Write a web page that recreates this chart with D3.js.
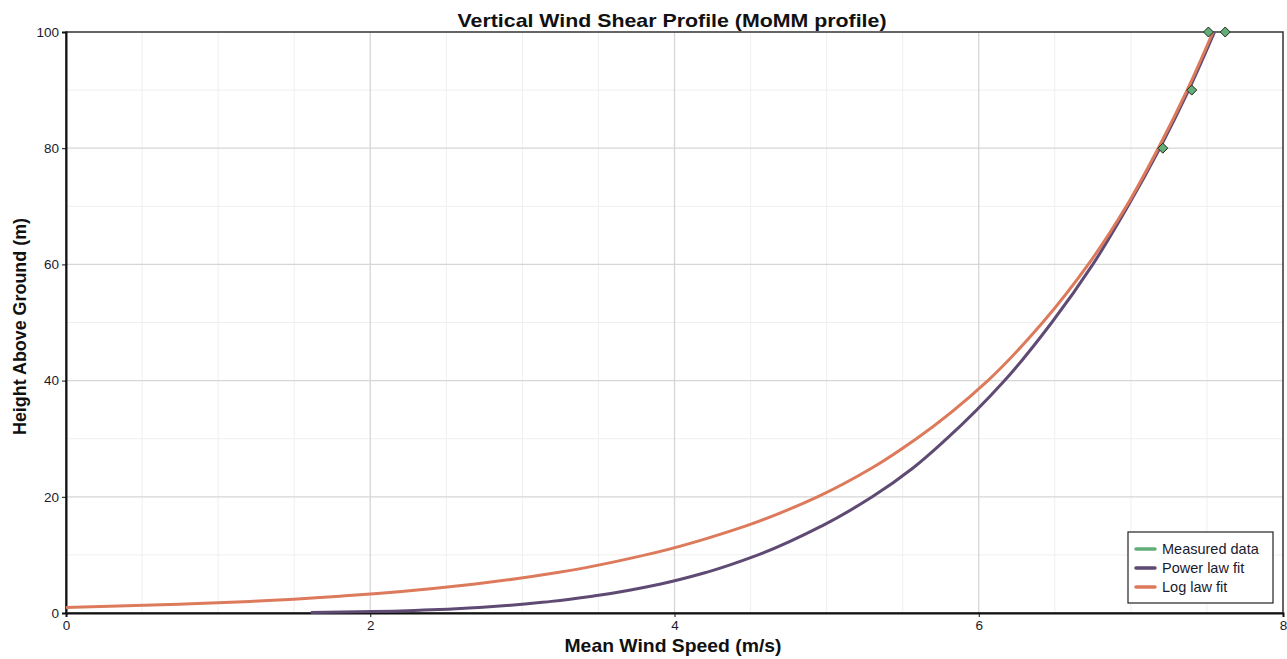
<!DOCTYPE html>
<html>
<head>
<meta charset="utf-8">
<script src="https://cdn.jsdelivr.net/npm/d3@7"></script>
<style>
  body { margin: 0; background: #fff; }
  svg { display: block; font-family: "Liberation Sans", Arial, sans-serif; }
</style>
</head>
<body>
<div id="chart"></div>
<script>
// heights (m) and wind speeds (m/s)
const powerHeights = [0.09, 0.25, 0.5, 1, 2, 3, 5, 7, 10, 15, 20, 25, 30, 40, 50, 60, 70, 80, 90, 100];
const powerSpeeds  = [1.61, 2.02, 2.35, 2.74, 3.19, 3.49, 3.91, 4.21, 4.55, 4.97, 5.30, 5.57, 5.79, 6.17, 6.48, 6.75, 6.98, 7.19, 7.38, 7.55];

const logHeights = [0.95, 1.5, 2, 3, 5, 7, 10, 15, 20, 25, 30, 40, 50, 60, 70, 80, 90, 100];
const logSpeeds  = [0, 0.74, 1.21, 1.86, 2.69, 3.24, 3.81, 4.47, 4.94, 5.30, 5.59, 6.06, 6.42, 6.72, 6.97, 7.18, 7.37, 7.54];

const measuredHeights = [100, 100, 90, 80];
const measuredSpeeds  = [7.51, 7.62, 7.40, 7.21];

const xTicks = [0, 2, 4, 6, 8];
const yTicks = [0, 20, 40, 60, 80, 100];

const legendNames = ["Measured data", "Power law fit", "Log law fit"];
const colors = { measured: "#62ad78", power: "#5f4a74", log: "#dc7a5b" };

const width = 1287, height = 659;
const margin = { top: 32, right: 4, bottom: 46, left: 66 };

const svg = d3.select("#chart").append("svg")
    .attr("width", width)
    .attr("height", height);

const x = d3.scaleLinear().domain([0, 8]).range([margin.left, width - margin.right]);
const y = d3.scaleLinear().domain([0, 100]).range([height - margin.bottom, margin.top]);

// grid, minor first
const grid = svg.append("g");
grid.selectAll(".vminor")
    .data(d3.range(0.5, 8, 0.5).filter(d => d % 2 !== 0))
    .join("line")
    .attr("x1", d => x(d)).attr("x2", d => x(d))
    .attr("y1", y(100)).attr("y2", y(0))
    .attr("stroke", "#efefef").attr("stroke-width", 1);
grid.selectAll(".hminor")
    .data(d3.range(10, 100, 20))
    .join("line")
    .attr("x1", x(0)).attr("x2", x(8))
    .attr("y1", d => y(d)).attr("y2", d => y(d))
    .attr("stroke", "#efefef").attr("stroke-width", 1);
grid.selectAll(".vmajor")
    .data(xTicks.slice(1, -1))
    .join("line")
    .attr("x1", d => x(d)).attr("x2", d => x(d))
    .attr("y1", y(100)).attr("y2", y(0))
    .attr("stroke", "#d6d6d6").attr("stroke-width", 1.3);
grid.selectAll(".hmajor")
    .data(yTicks.slice(1, -1))
    .join("line")
    .attr("x1", x(0)).attr("x2", x(8))
    .attr("y1", d => y(d)).attr("y2", d => y(d))
    .attr("stroke", "#d6d6d6").attr("stroke-width", 1.3);

// frame
svg.append("rect")
    .attr("x", x(0)).attr("y", y(100))
    .attr("width", x(8) - x(0)).attr("height", y(0) - y(100))
    .attr("fill", "none").attr("stroke", "#333").attr("stroke-width", 1.5);

// axes
const xAxis = svg.append("g")
    .attr("transform", `translate(0,${y(0)})`)
    .call(d3.axisBottom(x).tickValues(xTicks).tickSize(4).tickPadding(3).tickFormat(d3.format("d")));
const yAxis = svg.append("g")
    .attr("transform", `translate(${x(0)},0)`)
    .call(d3.axisLeft(y).tickValues(yTicks).tickSize(4).tickPadding(3).tickFormat(d3.format("d")));
[xAxis, yAxis].forEach(a => {
    a.select(".domain").attr("stroke", "#111").attr("stroke-width", 2);
    a.selectAll(".tick line").attr("stroke", "#111");
    a.selectAll("text").attr("font-size", 13.5).attr("fill", "#1a1a2e")
        .attr("font-family", "Liberation Sans, Arial, sans-serif");
});

// curves
const line = d3.line()
    .x(d => x(d[0]))
    .y(d => y(d[1]))
    .curve(d3.curveMonotoneY);

const powerData = powerHeights.map((h, i) => [powerSpeeds[i], h]);
const logData = logHeights.map((h, i) => [logSpeeds[i], h]);

svg.append("path")
    .datum(powerData)
    .attr("d", line)
    .attr("fill", "none")
    .attr("stroke", colors.power)
    .attr("stroke-width", 3);

svg.append("path")
    .datum(logData)
    .attr("d", line)
    .attr("fill", "none")
    .attr("stroke", colors.log)
    .attr("stroke-width", 3);

// measured points (diamonds)
svg.append("g")
    .selectAll("path")
    .data(measuredHeights.map((h, i) => [measuredSpeeds[i], h]))
    .join("path")
    .attr("transform", d => `translate(${x(d[0])},${y(d[1])})`)
    .attr("d", "M0,-5L5,0L0,5L-5,0Z")
    .attr("fill", colors.measured)
    .attr("stroke", "#1f2a22")
    .attr("stroke-width", 1);

// titles
svg.append("text")
    .attr("x", 672).attr("y", 27)
    .attr("text-anchor", "middle")
    .attr("font-size", 18.5).attr("font-weight", "bold").attr("fill", "#111")
    .attr("textLength", 429).attr("lengthAdjust", "spacingAndGlyphs")
    .text("Vertical Wind Shear Profile (MoMM profile)");

svg.append("text")
    .attr("x", 673).attr("y", 652)
    .attr("text-anchor", "middle")
    .attr("font-size", 18.5).attr("font-weight", "bold").attr("fill", "#111")
    .attr("textLength", 217).attr("lengthAdjust", "spacingAndGlyphs")
    .text("Mean Wind Speed (m/s)");

svg.append("text")
    .attr("transform", `translate(26,${(y(0) + y(100)) / 2 + 4}) rotate(-90)`)
    .attr("text-anchor", "middle")
    .attr("font-size", 18.5).attr("font-weight", "bold").attr("fill", "#111")
    .attr("textLength", 217).attr("lengthAdjust", "spacingAndGlyphs")
    .text("Height Above Ground (m)");

// legend
const legend = svg.append("g").attr("transform", "translate(1128,532)");
legend.append("rect")
    .attr("width", 145).attr("height", 71)
    .attr("fill", "#fff").attr("stroke", "#222").attr("stroke-width", 1.2);
const legendColors = [colors.measured, colors.power, colors.log];
const items = legend.selectAll("g")
    .data(legendNames)
    .join("g")
    .attr("transform", (d, i) => `translate(0,${17 + i * 19})`);
items.append("line")
    .attr("x1", 8).attr("x2", 27)
    .attr("stroke", (d, i) => legendColors[i])
    .attr("stroke-width", 3.5)
    .attr("stroke-linecap", "round");
items.append("text")
    .attr("x", 34).attr("y", 5)
    .attr("font-size", 14.5).attr("fill", "#1a1a2e")
    .text(d => d);
</script>
</body>
</html>
